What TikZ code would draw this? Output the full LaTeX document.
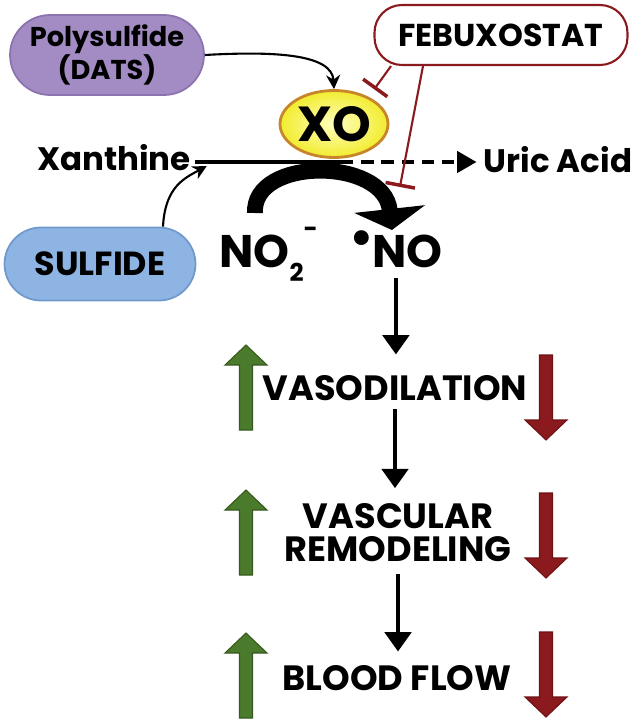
\documentclass[tikz,border=0pt]{standalone}
\usepackage{fontspec}
\setmainfont{Poppins}
\usetikzlibrary{arrows.meta, shapes.geometric, positioning, calc}

\definecolor{datspurple}{HTML}{A38BC3}
\definecolor{datsedge}{HTML}{8A73AE}
\definecolor{sulfblue}{HTML}{8DB4E2}
\definecolor{sulfedge}{HTML}{6F98CC}
\definecolor{febred}{HTML}{8B1A1F}
\definecolor{xoyellow}{HTML}{F2EC2E}
\definecolor{xoring}{HTML}{C7862B}
\definecolor{risegreen}{HTML}{4A7A2B}
\definecolor{riseedge}{HTML}{36591E}
\definecolor{fallred}{HTML}{8A1A1E}
\definecolor{falledge}{HTML}{6E1216}

\begin{document}
\begin{tikzpicture}[x=0.02cm, y=-0.02cm,
    pill/.style={rectangle, draw, line width=1pt, align=center, font=\bfseries\fontsize{15.5}{18}\selectfont},
    lbl/.style={inner sep=0pt, align=center, font=\bfseries\fontsize{20}{18.7}\selectfont},
    side/.style={inner sep=2pt, font=\bfseries\fontsize{18.5}{20}\selectfont},
    thin/.style={line width=1.2pt, -{Stealth[length=8pt, width=8pt]}},
    flow/.style={line width=2.3pt, -{Triangle[length=11pt, width=15pt]}},
    inhibit/.style={draw=febred, line width=1.2pt, -{Bar[width=17pt, line width=2pt]}},
    risearrow/.pic={\filldraw[fill=risegreen, draw=riseedge, line width=0.6pt] (-6.5,0) -- (-6.5,-65) -- (-21,-65) -- (0,-85) -- (21,-65) -- (6.5,-65) -- (6.5,0) -- cycle;},
    fallarrow/.pic={\filldraw[fill=fallred, draw=falledge, line width=0.6pt] (-6.5,0) -- (-6.5,65) -- (-21,65) -- (0,85) -- (21,65) -- (6.5,65) -- (6.5,0) -- cycle;}]

    \fill[white] (0,0) rectangle (638,723);
    \useasboundingbox (0,0) rectangle (638,723);

    % top row
    \node [pill, fill=datspurple, draw=datsedge, minimum width=3.88cm, minimum height=1.6cm, rounded corners=0.8cm] (dats) at (107,55) {Polysulfide\\(DATS)};
    \node [pill, fill=white, draw=febred, line width=1.2pt, minimum width=5.06cm, minimum height=1.2cm, rounded corners=0.55cm, font=\bfseries\fontsize{18}{20}\selectfont] (feb) at (501,35) {FEBUXOSTAT};
    \node [ellipse, draw=xoring, line width=1.6pt, inner color=yellow!25!white, outer color=xoyellow, minimum width=2.16cm, minimum height=1.34cm, inner sep=0pt, font=\bfseries\fontsize{28}{28}\selectfont] (xo) at (334,124) {XO};

    % reaction line
    \node [side] (xan) at (114,158) {Xanthine};
    \node [side, anchor=west] (uric) at (480,160) {Uric Acid};
    \node [pill, fill=sulfblue, draw=sulfedge, minimum width=3.82cm, minimum height=1.46cm, rounded corners=0.73cm, font=\bfseries\fontsize{19}{20}\selectfont] (sulf) at (100,264) {SULFIDE};
    \node [lbl, anchor=base west, font=\bfseries\fontsize{26}{26}\selectfont] (nitrite) at (219,267) {NO\raisebox{-8pt}{\fontsize{14}{14}\selectfont 2}\raisebox{17pt}{\fontsize{14}{14}\selectfont -}};
    \node [lbl, anchor=base west, font=\bfseries\fontsize{26}{26}\selectfont] (no) at (349,267) {\raisebox{7pt}{\fontsize{28}{28}\selectfont\textbullet}\kern-1pt NO};

    % outcomes
    \node [lbl] (vaso) at (395,388.5) {VASODILATION};
    \node [lbl] (remod) at (398,532.5) {VASCULAR\\REMODELING};
    \node [lbl] (bflow) at (397,678.5) {BLOOD FLOW};

    \coordinate (split) at (341,162);
    \draw [line width=2.3pt] (xan.east |- split) -- (split);
    \draw [line width=2.3pt, dash pattern=on 7pt off 4.5pt, shorten >=2pt, -{Triangle[length=11pt, width=12pt]}] (split) -- (uric.west |- split);
    \draw [thin] (dats.east) .. controls +(70,-4) and +(-2,-35) .. (xo.north);
    \draw [thin] ($(sulf.north)+(63,0)$) .. controls +(2,-40) and +(-22,12) .. ($(xan.east |- split)+(12,4)$);
    \draw [inhibit] ($(feb.south)+(-110,0)$) -- ($(xo.north east)+(1,-10)$);
    \draw [inhibit] ($(feb.south)+(-78,0)$) -- ($(no.base)+(4,-80)$);
    \draw [line width=9pt, -{Triangle[length=12pt, width=40pt]}] ($(nitrite.base west)+(36,-54)$) .. controls +(-3,-56) and +(-8,-73) .. ($(no.base)+(-4,-37)$);

    \draw [flow, shorten <=6pt, shorten >=12pt] (no.base) -- (no.base |- vaso.north);
    \draw [flow, shorten <=4.5pt, shorten >=8.5pt] (vaso.south) -- (vaso.south |- remod.north);
    \draw [flow, shorten <=6.8pt, shorten >=8pt] (remod.south) -- (remod.south |- bflow.north);

    \foreach \gy/\ry in {430/355, 575/493, 718/632} {
        \pic at (246,\gy) {risearrow};
        \pic at (546,\ry) {fallarrow};
    }
\end{tikzpicture}
\end{document}
